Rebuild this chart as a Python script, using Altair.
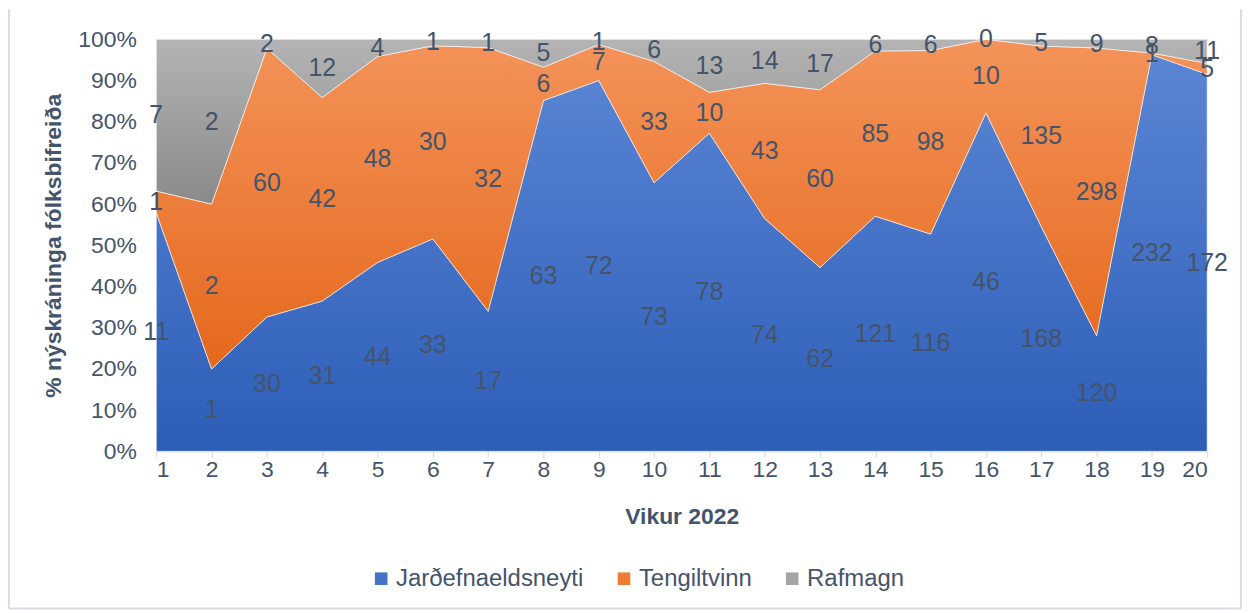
import altair as alt
import pandas as pd

weeks = list(range(1, 21))
series_names = ["Jarðefnaeldsneyti", "Tengiltvinn", "Rafmagn"]
fossil = [11, 1, 30, 31, 44, 33, 17, 63, 72, 73, 78, 74, 62, 121, 116, 46, 168, 120, 232, 172]
phev = [1, 2, 60, 42, 48, 30, 32, 6, 7, 33, 10, 43, 60, 85, 98, 10, 135, 298, 1, 5]
ev = [7, 2, 2, 12, 4, 1, 1, 5, 1, 6, 13, 14, 17, 6, 6, 0, 5, 9, 8, 11]
legend_colors = ["#4472C4", "#ED7D31", "#A5A5A5"]
gradients = [
    ("#5B86D4", "#2D5DB8"),
    ("#F4935A", "#E4681C"),
    ("#B4B4B4", "#8A8A8A"),
]

rows = []
for i, w in enumerate(weeks):
    for k, (name, vals) in enumerate(zip(series_names, [fossil, phev, ev])):
        rows.append({"week": w, "series": name, "count": vals[i], "order": k})
df = pd.DataFrame(rows)

TXT = "#44546A"
FONT = "Liberation Sans"

base = alt.Chart(df).transform_stack(
    stack="count",
    groupby=["week"],
    as_=["y0", "y1"],
    offset="normalize",
    sort=[alt.SortField("order", order="ascending")],
).transform_calculate(mid="(datum.y0 + datum.y1) / 2")

xenc = alt.X(
    "week:Q",
    scale=alt.Scale(domain=[1, 20], nice=False, zero=False),
    axis=alt.Axis(
        values=weeks, format="d", title="Vikur 2022", grid=False,
        domainColor="#D9D9D9", tickColor="#D9D9D9", tickSize=6,
        labelFontSize=23, labelColor=TXT, labelFont=FONT, labelPadding=1,
        titleFontSize=23, titleColor=TXT, titleFont=FONT, titleFontWeight="bold",
        titlePadding=25,
    ),
)
yaxis = alt.Axis(
    values=[i / 10 for i in range(11)], format=".0%", title="% nýskráninga fólksbifreiða",
    grid=False, domain=False, ticks=False,
    labelFontSize=23, labelColor=TXT, labelFont=FONT, labelPadding=20,
    titleFontSize=23, titleColor=TXT, titleFont=FONT, titleFontWeight="bold",
    titlePadding=12,
)

layers = []
for k, name in enumerate(series_names):
    top, bot = gradients[k]
    grad = alt.Gradient(
        gradient="linear",
        stops=[alt.GradientStop(color=top, offset=0), alt.GradientStop(color=bot, offset=1)],
        x1=0, x2=0, y1=0, y2=1,
    )
    layer = base.transform_filter(alt.datum.series == name).mark_area(
        fill=grad, stroke="#FFFFFF", strokeWidth=1, strokeOpacity=0.6
    ).encode(
        x=xenc,
        y=alt.Y("y1:Q", scale=alt.Scale(domain=[0, 1]), axis=yaxis),
        y2="y0:Q",
    )
    layers.append(layer)

legend_layer = base.mark_square(opacity=0).encode(
    x="week:Q",
    y="mid:Q",
    color=alt.Color(
        "series:N",
        scale=alt.Scale(domain=series_names, range=legend_colors),
        legend=alt.Legend(
            title=None, orient="none", direction="horizontal",
            legendX=214, legendY=530,
            symbolType="square", symbolSize=160, symbolOpacity=1, symbolStrokeWidth=0,
            labelFontSize=24, labelColor=TXT, labelFont=FONT, labelOffset=3,
            labelLimit=400, columnPadding=28,
        ),
    ),
)

text_layer = base.mark_text(fontSize=25, color=TXT, font=FONT).encode(
    x="week:Q", y="mid:Q", text="count:Q"
)

border_df = pd.DataFrame({"a": [0]})
border = alt.Chart(border_df).mark_rule(color="#D9DEE5", strokeWidth=2).encode(
    x=alt.value(-148), y=alt.value(-30), y2=alt.value(572)
)
border_r = alt.Chart(border_df).mark_rule(color="#D9DEE5", strokeWidth=2).encode(
    x=alt.value(1090), y=alt.value(-30), y2=alt.value(572)
)
border_b = alt.Chart(border_df).mark_rule(color="#D9DEE5", strokeWidth=2).encode(
    x=alt.value(-148), x2=alt.value(1090), y=alt.value(572)
)

chart = alt.layer(*layers, legend_layer, text_layer, border, border_r, border_b).properties(
    width=1056, height=414,
    autosize=alt.AutoSizeParams(type="none"),
    padding={"left": 149, "top": 30, "right": 35, "bottom": 160},
).configure_view(stroke=None)

chart.save("out.html", embed_options={"renderer": "svg", "actions": False})
